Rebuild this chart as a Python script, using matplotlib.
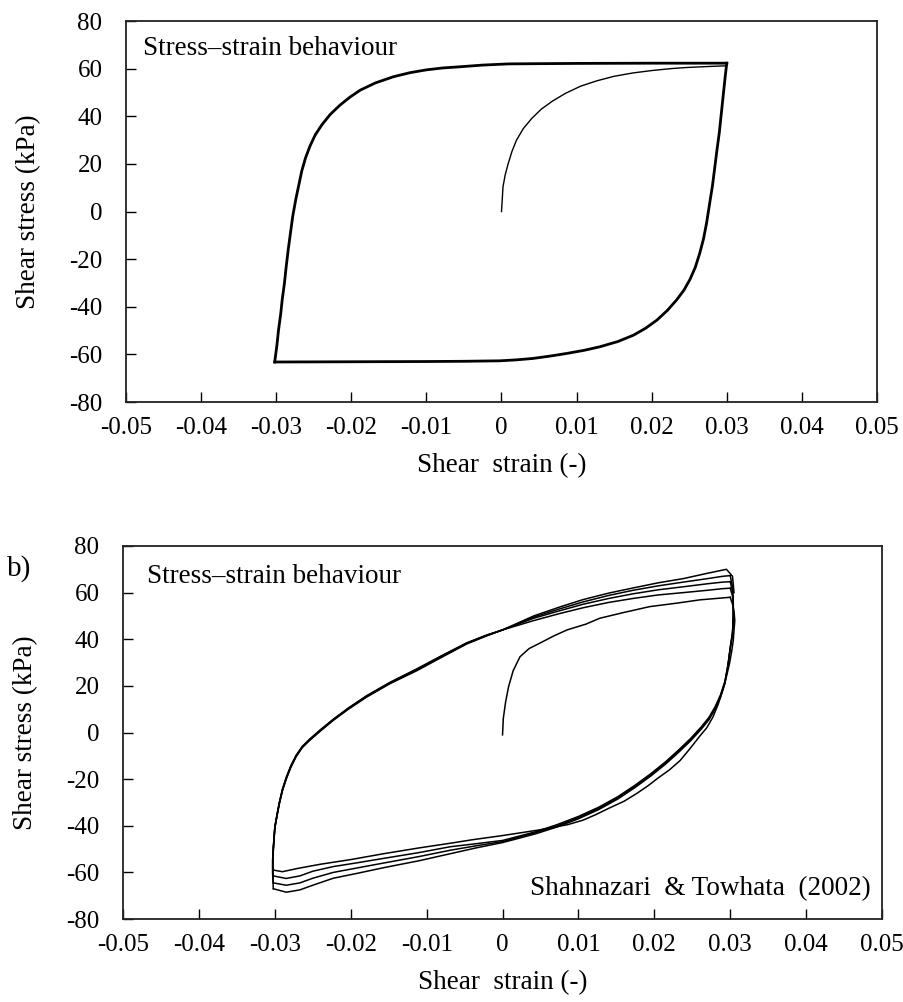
import numpy as np
import matplotlib
matplotlib.use("Agg")
import matplotlib.pyplot as plt

plt.rcParams['font.family'] = ['Liberation Serif', 'DejaVu Serif']

# axis ticks
x_ticks = [-0.05, -0.04, -0.03, -0.02, -0.01, 0.0, 0.01, 0.02, 0.03, 0.04, 0.05]
x_tick_labels = ['-0.05', '-0.04', '-0.03', '-0.02', '-0.01', '0', '0.01', '0.02', '0.03', '0.04', '0.05']
y_ticks = [-80, -60, -40, -20, 0, 20, 40, 60, 80]
y_tick_labels = ['-80', '-60', '-40', '-20', '0', '20', '40', '60', '80']

# ---- panel a (model) ----
a_init_strain = [0.0, 0.0001, 0.0002, 0.0005, 0.0009, 0.0014, 0.0020, 0.0029, 0.0040, 0.0053, 0.0068,
                 0.0085, 0.0105, 0.0127, 0.0150, 0.0175, 0.0200, 0.0225, 0.0247, 0.0275, 0.0299]
a_init_stress = [0.0, 5.0, 10.4, 15.5, 20.2, 25.3, 30.0, 34.8, 39.0, 43.0, 46.4,
                 49.6, 52.6, 54.9, 56.8, 58.2, 59.2, 60.0, 60.5, 60.9, 61.2]

a_unload_strain = [0.0300, 0.0298, 0.0296, 0.0294, 0.0292, 0.0290, 0.0287, 0.0284, 0.0281, 0.0277, 0.0273,
                   0.0269, 0.0264, 0.0258, 0.0251, 0.0243, 0.0233, 0.0221, 0.0207, 0.0192, 0.0176,
                   0.0155, 0.0131, 0.0110, 0.0087, 0.0065, 0.0042, 0.0020, -0.0002, -0.0050, -0.0100,
                   -0.0200, -0.0302]
a_unload_stress = [62.3, 57.0, 51.0, 45.0, 39.0, 33.0, 26.0, 18.5, 11.0, 3.0, -5.0,
                   -11.5, -17.5, -23.5, -28.5, -33.0, -37.2, -41.5, -45.6, -49.0, -51.9,
                   -54.6, -56.8, -58.3, -59.6, -60.7, -61.7, -62.3, -62.7, -62.9, -63.0,
                   -63.1, -63.2]

a_reload_strain = [-0.0302, -0.0299, -0.0297, -0.0294, -0.0292, -0.0289, -0.0287, -0.0284, -0.0281, -0.0278,
                   -0.0274, -0.0270, -0.0266, -0.0261, -0.0255, -0.0248, -0.0239, -0.0228, -0.0215, -0.0202,
                   -0.0188, -0.0168, -0.0144, -0.0122, -0.0100, -0.0078, -0.0055, -0.0025, 0.0009, 0.0050,
                   0.0100, 0.0200, 0.0300]
a_reload_stress = [-63.2, -56.0, -50.0, -43.0, -37.0, -30.0, -24.0, -16.0, -9.0, -2.0,
                   5.0, 11.0, 17.0, 22.5, 27.5, 32.2, 36.5, 40.8, 44.7, 48.0,
                   51.0, 54.0, 56.6, 58.3, 59.5, 60.3, 60.8, 61.5, 62.0, 62.1,
                   62.2, 62.3, 62.3]

# ---- panel b (Shahnazari & Towhata 2002) ----
b_init_strain = [0.0, 0.0001, 0.0004, 0.0008, 0.0014, 0.0023, 0.0035, 0.0049, 0.0068, 0.0085,
                 0.0110, 0.0128, 0.0160, 0.0194, 0.0230, 0.0260, 0.0300]
b_init_stress = [-1.0, 6.0, 13.0, 19.7, 26.5, 32.5, 36.0, 38.3, 41.5, 44.0,
                 46.5, 49.0, 51.5, 54.0, 55.5, 56.9, 58.0]

b_u1_strain = [0.0300, 0.0303, 0.0305, 0.0306, 0.0305, 0.0304, 0.0302, 0.0299, 0.0295, 0.0290,
               0.0284, 0.0277, 0.0269, 0.0260, 0.0248, 0.0234, 0.0220, 0.0205, 0.0191, 0.0177,
               0.0160, 0.0140, 0.0123, 0.0106, 0.0086, 0.0065, 0.0048, 0.0032, 0.0000, -0.0040,
               -0.0069, -0.0110, -0.0157, -0.0200, -0.0240, -0.0270, -0.0290, -0.0302]
b_u1_stress = [58.0, 55.0, 52.0, 48.0, 44.0, 39.5, 35.0, 29.5, 24.0, 18.0,
               12.0, 6.5, 2.0, -1.5, -6.5, -12.0, -16.0, -19.5, -23.0, -26.1,
               -29.5, -32.5, -35.2, -37.6, -39.5, -40.8, -41.8, -42.6, -44.2, -46.0,
               -47.5, -49.5, -52.0, -54.5, -56.5, -58.3, -59.7, -59.0]

b_u_strain = [0.0300, 0.0303, 0.0304, 0.0304, 0.0303, 0.0300, 0.0297, 0.0293, 0.0287, 0.0280,
              0.0272, 0.0262, 0.0248, 0.0232, 0.0215, 0.0196, 0.0175, 0.0152, 0.0127, 0.0100,
              0.0072, 0.0043, 0.0020, 0.0000, -0.0035, -0.0069, -0.0110, -0.0157, -0.0190, -0.0223,
              -0.0250, -0.0267, -0.0285, -0.0302]
b_u2_stress = [61.9, 58.5, 54.0, 48.0, 42.0, 36.0, 29.0, 22.0, 16.0, 11.0,
               6.5, 2.5, -2.5, -7.5, -12.5, -17.5, -22.5, -27.5, -32.0, -36.0,
               -39.5, -42.6, -44.6, -46.3, -47.7, -49.0, -51.5, -54.0, -55.8, -57.5,
               -59.5, -61.5, -62.6, -61.5]
b_u3_stress = [64.7, 60.5, 55.5, 49.0, 42.5, 36.0, 28.8, 21.5, 15.5, 10.5,
               6.0, 2.0, -3.0, -8.0, -13.0, -18.0, -23.0, -28.0, -32.5, -36.5,
               -40.0, -43.0, -45.0, -46.8, -48.6, -50.5, -53.2, -56.0, -58.0, -60.0,
               -62.5, -64.5, -65.5, -64.5]
b_u4_stress = [67.3, 62.5, 57.0, 50.0, 43.0, 36.5, 28.5, 21.0, 15.0, 10.0,
               5.5, 1.5, -3.5, -8.5, -13.5, -18.5, -23.5, -28.5, -33.0, -37.0,
               -40.5, -43.5, -45.5, -47.2, -49.5, -52.0, -55.0, -58.0, -60.3, -62.5,
               -65.5, -67.5, -68.5, -67.0]

b_r_strain = [-0.0302, -0.0303, -0.0302, -0.0300, -0.0297, -0.0294, -0.0290, -0.0285, -0.0279, -0.0272,
              -0.0264, -0.0254, -0.0240, -0.0223, -0.0203, -0.0179, -0.0148, -0.0113, -0.0080, -0.0047,
              -0.0022, 0.0000, 0.0041, 0.0075, 0.0106, 0.0140, 0.0172, 0.0205, 0.0238, 0.0270,
              0.0290, 0.0300]
b_r1_stress = [-59.0, -55.0, -49.0, -41.0, -35.5, -30.5, -25.0, -20.0, -15.0, -10.4,
               -6.5, -3.2, 0.8, 5.5, 10.5, 15.8, 21.6, 27.3, 33.0, 38.5,
               41.7, 44.0, 48.0, 51.0, 53.5, 55.8, 57.5, 59.0, 60.0, 61.0,
               61.7, 61.9]
b_r2_stress = [-61.5, -56.5, -49.5, -40.5, -35.0, -30.0, -24.5, -19.5, -14.5, -10.0,
               -6.2, -3.0, 1.0, 5.5, 10.3, 15.5, 21.3, 27.0, 32.8, 38.3,
               41.5, 44.0, 49.0, 52.2, 55.0, 57.5, 59.5, 61.2, 62.5, 63.8,
               64.5, 64.7]
b_r3_stress = [-64.5, -58.0, -50.0, -40.5, -35.0, -30.0, -24.3, -19.3, -14.3, -9.8,
               -6.0, -2.8, 1.2, 5.7, 10.5, 15.6, 21.2, 26.8, 32.6, 38.2,
               41.5, 44.0, 49.5, 53.0, 56.0, 58.8, 61.0, 62.9, 64.5, 66.0,
               67.0, 67.3]
b_r4_strain = [-0.0302, -0.0303, -0.0302, -0.0300, -0.0297, -0.0294, -0.0290, -0.0285, -0.0279, -0.0272,
               -0.0264, -0.0254, -0.0240, -0.0223, -0.0203, -0.0179, -0.0148, -0.0113, -0.0080, -0.0047,
               -0.0022, 0.0000, 0.0041, 0.0075, 0.0106, 0.0140, 0.0172, 0.0205, 0.0238, 0.0270,
               0.0295, 0.0303, 0.0305]
b_r4_stress = [-67.0, -60.0, -51.0, -41.0, -35.5, -30.3, -24.8, -19.8, -14.8, -10.2,
               -6.4, -3.3, 0.6, 5.2, 10.0, 15.2, 21.0, 26.5, 32.3, 38.0,
               41.3, 44.0, 50.0, 53.8, 57.0, 59.8, 62.0, 64.2, 66.0, 68.3,
               70.0, 67.0, 60.0]


def style_axes(ax):
    ax.set_xlim(-0.05, 0.05)
    ax.set_ylim(-80, 80)
    ax.set_xticks(x_ticks)
    ax.set_xticklabels(x_tick_labels)
    ax.set_yticks(y_ticks)
    ax.set_yticklabels(y_tick_labels)
    ax.tick_params(axis='both', direction='in', length=7, width=1.0, labelsize=18, colors='black')
    ax.tick_params(axis='y', pad=17)
    ax.tick_params(axis='x', pad=11)
    for s in ax.spines.values():
        s.set_linewidth(1.3)
        s.set_color('#222222')
    ax.set_xlabel('Shear  strain (-)', fontsize=19.5, labelpad=10)
    ax.set_ylabel('Shear stress (kPa)', fontsize=19.5, labelpad=20)


fig = plt.figure(figsize=(9.04, 10.02), dpi=100)

ax1 = fig.add_axes([0.1394, 0.5988, 0.8307, 0.3802])
ax1.plot(a_init_strain, a_init_stress, color='black', lw=1.0)
ax1.plot(a_unload_strain, a_unload_stress, color='black', lw=2.0)
ax1.plot(a_reload_strain, a_reload_stress, color='black', lw=2.0)
style_axes(ax1)
ax1.text(0.0226, 0.911, 'Stress\u2013strain behaviour', transform=ax1.transAxes,
         fontsize=19.5, va='baseline', ha='left')

ax2 = fig.add_axes([0.1361, 0.0828, 0.8396, 0.3723])
lw_b = 1.1
ax2.plot(b_init_strain, b_init_stress, color='black', lw=lw_b)
ax2.plot(b_u1_strain, b_u1_stress, color='black', lw=lw_b)
ax2.plot(b_r_strain, b_r1_stress, color='black', lw=lw_b)
ax2.plot(b_u_strain, b_u2_stress, color='black', lw=lw_b)
ax2.plot(b_r_strain, b_r2_stress, color='black', lw=lw_b)
ax2.plot(b_u_strain, b_u3_stress, color='black', lw=lw_b)
ax2.plot(b_r_strain, b_r3_stress, color='black', lw=lw_b)
ax2.plot(b_u_strain, b_u4_stress, color='black', lw=lw_b)
ax2.plot(b_r4_strain, b_r4_stress, color='black', lw=lw_b)
style_axes(ax2)
ax2.text(0.0316, 0.901, 'Stress\u2013strain behaviour', transform=ax2.transAxes,
         fontsize=19.5, va='baseline', ha='left')
ax2.text(0.9855, 0.064, 'Shahnazari  & Towhata  (2002)', transform=ax2.transAxes,
         fontsize=19.5, va='baseline', ha='right')
fig.text(0.008, 0.4255, 'b)', fontsize=21, va='baseline', ha='left')

fig.savefig('out.png', dpi=100)
